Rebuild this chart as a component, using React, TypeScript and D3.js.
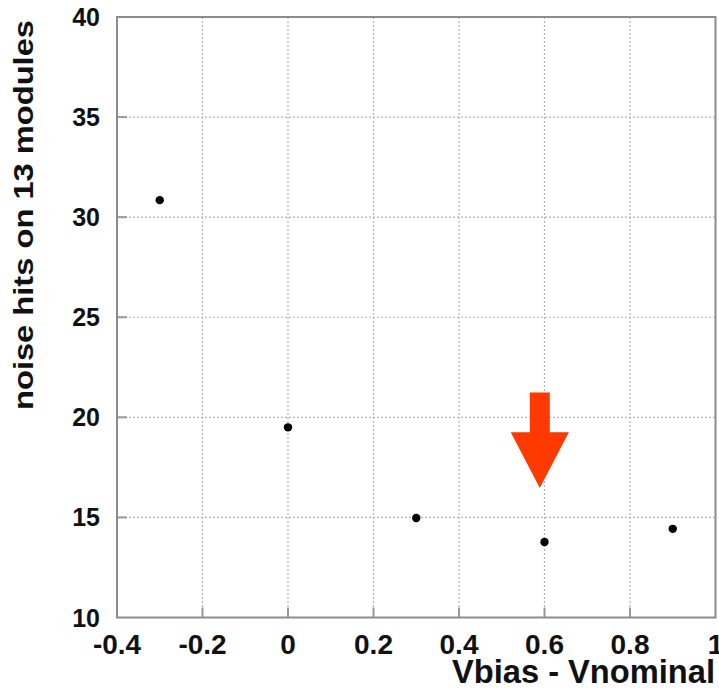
import React from "react";
import * as d3 from "d3";

// Noise hits summed over 13 modules vs. bias voltage offset
const biasOffsets = [-0.3, 0.0, 0.3, 0.6, 0.9];
const noiseHits = [30.85, 19.5, 14.97, 13.77, 14.43];

const xTicks = [-0.4, -0.2, 0, 0.2, 0.4, 0.6, 0.8, 1];
const yTicks = [10, 15, 20, 25, 30, 35, 40];

// Marker pointing at the chosen working point (data units)
const arrowX = [0.589];
const arrowTop = [21.24];
const arrowHeadBase = [19.25];
const arrowTip = [16.47];
const arrowShaftHalf = [0.0234];
const arrowHeadHalf = [0.068];

const W = 719;
const H = 688;
const left = 117;
const right = 715.5;
const top = 17;
const bottom = 617.5;

const FONT = "'Liberation Sans', Arial, Helvetica, sans-serif";

export default function App() {
  const x = d3.scaleLinear().domain([-0.4, 1]).range([left, right]);
  const y = d3.scaleLinear().domain([10, 40]).range([bottom, top]);

  // plain hyphen for negatives, no trailing zeros for integers
  const fmtX = (v: number) =>
    v === 0 || v === 1 ? String(v) : (v < 0 ? "-" : "") + Math.abs(v).toFixed(1);

  const ax = arrowX[0];
  const arrowPts: [number, number][] = [
    [x(ax - arrowShaftHalf[0]), y(arrowTop[0])],
    [x(ax + arrowShaftHalf[0]), y(arrowTop[0])],
    [x(ax + arrowShaftHalf[0]), y(arrowHeadBase[0])],
    [x(ax + arrowHeadHalf[0]), y(arrowHeadBase[0])],
    [x(ax), y(arrowTip[0])],
    [x(ax - arrowHeadHalf[0]), y(arrowHeadBase[0])],
    [x(ax - arrowShaftHalf[0]), y(arrowHeadBase[0])],
  ];
  const arrowPath = d3.line()(arrowPts) + "Z";

  return (
    <svg
      width={W}
      height={H}
      style={{ position: "absolute", left: 0, top: 0, background: "#fff" }}
      fontFamily={FONT}
    >
      {/* grid */}
      <g stroke="#b4b4b4" strokeWidth={1.2} strokeDasharray="2,2">
        {xTicks.slice(1, -1).map((t) => (
          <line key={"gx" + t} x1={x(t)} x2={x(t)} y1={top} y2={bottom} />
        ))}
        {yTicks.slice(1, -1).map((t) => (
          <line key={"gy" + t} x1={left} x2={right} y1={y(t)} y2={y(t)} />
        ))}
      </g>

      {/* tick marks */}
      <g stroke="#999" strokeWidth={2}>
        {yTicks.slice(1, -1).map((t) => (
          <line key={"ty" + t} x1={left} x2={left + 10} y1={y(t)} y2={y(t)} />
        ))}
        {xTicks.slice(1, -1).map((t) => (
          <line key={"tx" + t} x1={x(t)} x2={x(t)} y1={bottom} y2={bottom - 10} />
        ))}
      </g>

      {/* frame */}
      <rect
        x={left}
        y={top}
        width={right - left}
        height={bottom - top}
        fill="none"
        stroke="#8c8c8c"
        strokeWidth={2}
      />

      {/* data points */}
      <g fill="#000">
        {biasOffsets.map((v, i) => (
          <circle key={i} cx={x(v)} cy={y(noiseHits[i])} r={4.2} />
        ))}
      </g>

      {/* arrow */}
      <path d={arrowPath} fill="#ff3a00" />

      {/* y tick labels */}
      <g fontSize={25} fontWeight="bold" fill="#111" textAnchor="end">
        {yTicks.map((t) => (
          <text key={"ly" + t} x={100} y={y(t) + 9}>
            {t}
          </text>
        ))}
      </g>

      {/* x tick labels */}
      <g fontSize={28} fontWeight="bold" fill="#111" textAnchor="middle">
        {xTicks.map((t) => (
          <text key={"lx" + t} x={x(t)} y={654}>
            {fmtX(t)}
          </text>
        ))}
      </g>

      {/* axis titles */}
      <text
        x={715}
        y={683}
        fontSize={34}
        fontWeight="bold"
        fill="#111"
        textAnchor="end"
        textLength={263}
        lengthAdjust="spacingAndGlyphs"
      >
        Vbias - Vnominal
      </text>
      <text
        transform="translate(33,20) rotate(-90)"
        fontSize={28}
        fontWeight="bold"
        fill="#111"
        textAnchor="end"
        textLength={390}
        lengthAdjust="spacingAndGlyphs"
      >
        noise hits on 13 modules
      </text>
    </svg>
  );
}
